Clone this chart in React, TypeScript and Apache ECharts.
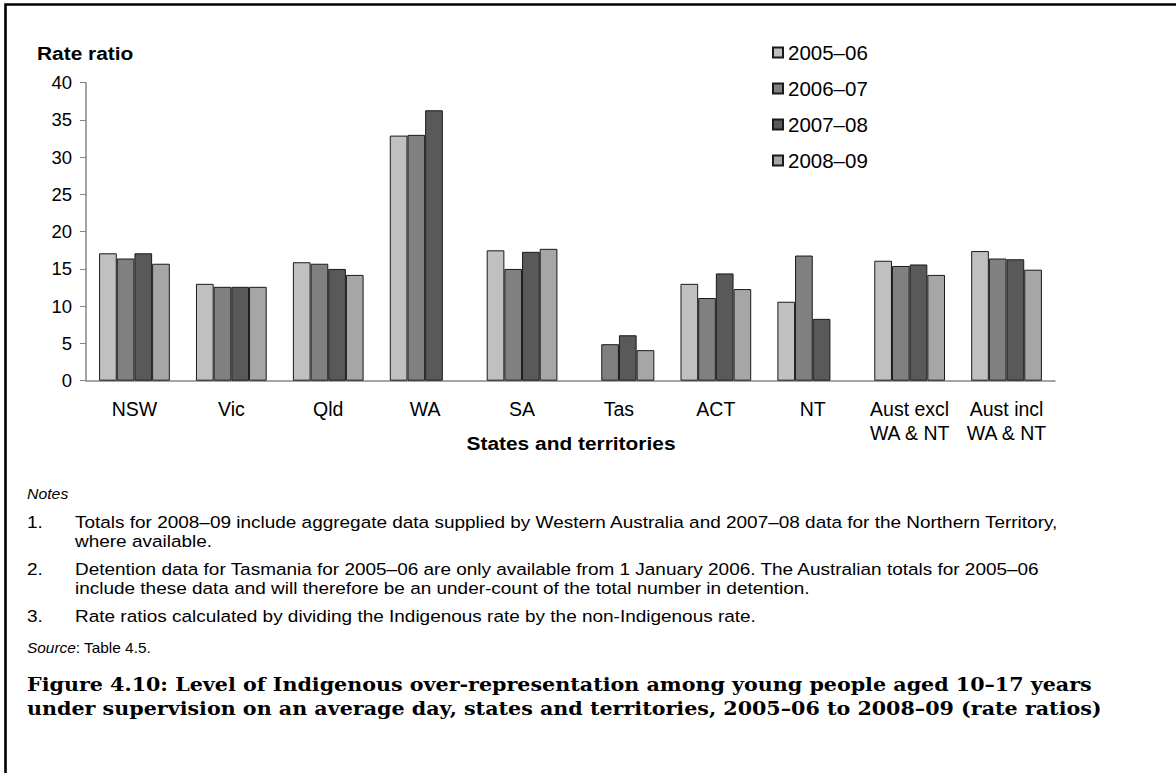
import React, { useEffect, useRef } from "react";
import * as echarts from "echarts";

const categories = ["NSW", "Vic", "Qld", "WA", "SA", "Tas", "ACT", "NT", "Aust excl\nWA & NT", "Aust incl\nWA & NT"];
const seriesNames = ["2005–06", "2006–07", "2007–08", "2008–09"];
const v2005 = [17.1, 13.0, 15.9, 32.9, 17.5, null, 13.0, 10.6, 16.1, 17.4];
const v2006 = [16.4, 12.6, 15.7, 33.0, 15.0, 4.9, 11.1, 16.8, 15.4, 16.4];
const v2007 = [17.1, 12.6, 15.0, 36.3, 17.3, 6.1, 14.4, 8.3, 15.6, 16.3];
const v2008 = [15.7, 12.6, 14.2, null, 17.7, 4.1, 12.3, null, 14.2, 14.9];
const yTicks = { min: 0, max: 40, interval: 5 };
const colors = ["#c0c0c0", "#808080", "#595959", "#a6a6a6"];

const notes = [
  ["1.", "Totals for 2008–09 include aggregate data supplied by Western Australia and 2007–08 data for the Northern Territory,", "where available."],
  ["2.", "Detention data for Tasmania for 2005–06 are only available from 1 January 2006. The Australian totals for 2005–06", "include these data and will therefore be an under-count of the total number in detention."],
  ["3.", "Rate ratios calculated by dividing the Indigenous rate by the non-Indigenous rate."],
];
const titleLines = [
  "Figure 4.10: Level of Indigenous over-representation among young people aged 10–17 years",
  "under supervision on an average day, states and territories, 2005–06 to 2008–09 (rate ratios)",
];

export default function App() {
  const ref = useRef<HTMLDivElement>(null);
  useEffect(() => {
    document.body.style.margin = "0";
    const chart = echarts.init(ref.current!, null, { renderer: "svg" });
    const data = [v2005, v2006, v2007, v2008];
    const sans = "'Liberation Sans', Arial, sans-serif";
    const noteFont = 16.5;
    const noteScale = 1.15;
    const graphic: any[] = [
      { type: "rect", shape: { x: 5.5, y: 4.5, width: 1200, height: 800 }, style: { fill: "none", stroke: "#000", lineWidth: 2.6 } },
      { type: "text", x: 37, y: 53, scaleX: 1.1, style: { text: "Rate ratio", font: `bold 19px ${sans}`, fill: "#000", textVerticalAlign: "middle" } },
      { type: "text", x: 571, y: 443, scaleX: 1.1, style: { text: "States and territories", font: `bold 19px ${sans}`, fill: "#000", textAlign: "center", textVerticalAlign: "middle" } },
      { type: "text", x: 27, y: 494, scaleX: 1.13, style: { text: "Notes", font: `italic 14px ${sans}`, fill: "#000", textVerticalAlign: "middle" } },
    ];
    const noteYs = [[522, 541], [569, 588], [616]];
    notes.forEach((n, i) => {
      graphic.push({ type: "text", x: 27, y: noteYs[i][0], scaleX: noteScale, style: { text: n[0], font: `${noteFont}px ${sans}`, fill: "#000", textVerticalAlign: "middle" } });
      for (let k = 1; k < n.length; k++) {
        graphic.push({ type: "text", x: 75, y: noteYs[i][k - 1], scaleX: noteScale, style: { text: n[k], font: `${noteFont}px ${sans}`, fill: "#000", textVerticalAlign: "middle" } });
      }
    });
    graphic.push({
      type: "text", x: 27, y: 648, scaleX: 1.1,
      style: { text: "{i|Source}: Table 4.5.", font: `14px ${sans}`, fill: "#000", textVerticalAlign: "middle", rich: { i: { fontStyle: "italic", fontSize: 14, fontFamily: sans } } },
    });
    titleLines.forEach((t, i) => {
      graphic.push({ type: "text", x: 27, y: 684 + i * 24, scaleX: 1.07, style: { text: t, font: `bold 19.3px 'DejaVu Serif', serif`, fill: "#000", textVerticalAlign: "middle" } });
    });

    chart.setOption({
      animation: false,
      backgroundColor: "#fff",
      grid: { left: 86, right: 121, top: 82.7, bottom: 392.3, containLabel: false },
      legend: {
        orient: "vertical", left: 772, top: 42, padding: 0, itemWidth: 10, itemHeight: 10, itemGap: 15,
        icon: "rect",
        textStyle: { fontSize: 20.5, fontFamily: sans, color: "#000", lineHeight: 20 },
        data: seriesNames,
      },
      xAxis: {
        type: "category", data: categories,
        axisLine: { lineStyle: { color: "#868686", width: 1.5 } },
        axisTick: { alignWithLabel: true, length: 5, lineStyle: { color: "#868686" } },
        axisLabel: { color: "#000", fontSize: 19.5, fontFamily: sans, margin: 16, lineHeight: 24, interval: 0 },
      },
      yAxis: {
        type: "value", ...yTicks,
        splitLine: { show: false },
        axisLine: { show: true, lineStyle: { color: "#868686", width: 1.5 } },
        axisTick: { show: true, length: 6, lineStyle: { color: "#868686" } },
        axisLabel: { color: "#000", fontSize: 18.5, fontFamily: sans, margin: 14 },
      },
      series: seriesNames.map((name, i) => ({
        name, type: "bar", data: data[i], barGap: "0%", barCategoryGap: "27%",
        itemStyle: { color: colors[i], borderColor: "#1a1a1a", borderWidth: 1 },
      })),
      graphic,
    });
    return () => chart.dispose();
  }, []);
  return <div ref={ref} style={{ width: 1176, height: 773 }} />;
}
